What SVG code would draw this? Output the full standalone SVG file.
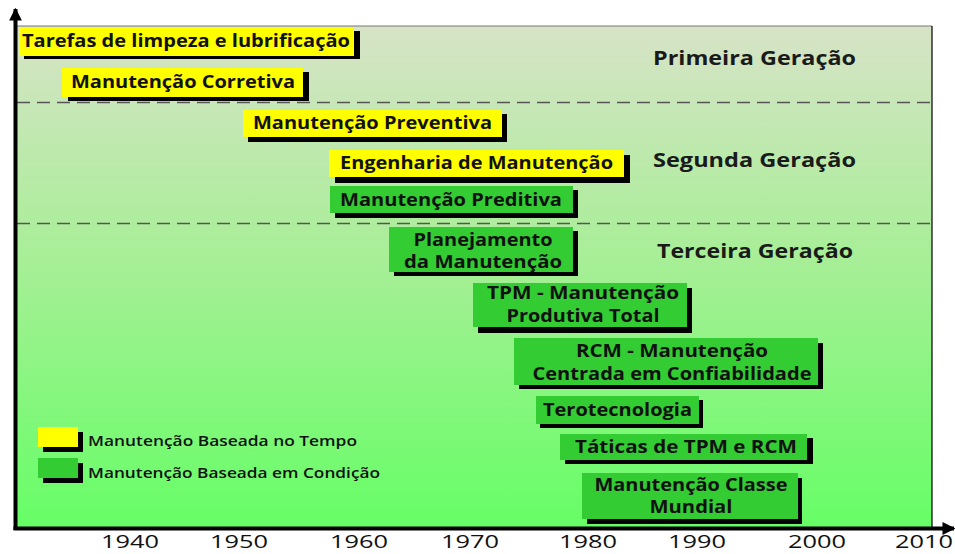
<svg xmlns="http://www.w3.org/2000/svg" width="955" height="554" viewBox="0 0 955 554">
<defs>
<linearGradient id="bg" x1="0" y1="0" x2="0" y2="1">
<stop offset="0" stop-color="#d7e3c7"/>
<stop offset="0.45" stop-color="#a9ee98"/>
<stop offset="1" stop-color="#66fe66"/>
</linearGradient>
<marker id="arr" viewBox="0 0 10 10" refX="9" refY="5" markerWidth="3.2" markerHeight="3.2" orient="auto" markerUnits="strokeWidth">
<path d="M0,0 L10,5 L0,10 Z" fill="#000"/>
</marker>
<style>
.sh{fill:#000}
.y{fill:#ffff00}
.g{fill:#33cc33}
.t{font-family:"Open Sans","Liberation Sans",sans-serif;font-weight:700;font-size:17px;fill:#111}
.c{text-anchor:middle}
.lg{font-family:"Open Sans","Liberation Sans",sans-serif;font-weight:600;font-size:14.5px;fill:#111}
.gen{font-family:"Open Sans","Liberation Sans",sans-serif;font-weight:700;font-size:19.5px;fill:#1a1a1a}
.yr{font-family:"Open Sans","Liberation Sans",sans-serif;font-size:19px;fill:#111;text-anchor:middle}
.dash{stroke:#555;stroke-width:1.3;stroke-dasharray:13 7;fill:none}
</style>
</defs>
<g id="background">
<rect x="15" y="26" width="917" height="502" fill="url(#bg)"/>
<line x1="15" y1="26" x2="932" y2="26" stroke="#777" stroke-width="1"/>
<line x1="932" y1="26" x2="932" y2="528" stroke="#000" stroke-width="1.2"/>
<line class="dash" x1="17" y1="102.5" x2="932" y2="102.5"/>
<line class="dash" x1="17" y1="223.5" x2="932" y2="223.5"/>
</g>
<g id="axes">
<line x1="15.5" y1="530" x2="15.5" y2="9" stroke="#000" stroke-width="4" marker-end="url(#arr)"/>
<line x1="13.5" y1="528.5" x2="954" y2="528.5" stroke="#000" stroke-width="4" marker-end="url(#arr)"/>
</g>
<g id="years">
<text class="yr" x="130" y="548" textLength="58" lengthAdjust="spacingAndGlyphs">1940</text>
<text class="yr" x="239" y="548" textLength="58" lengthAdjust="spacingAndGlyphs">1950</text>
<text class="yr" x="359" y="548" textLength="58" lengthAdjust="spacingAndGlyphs">1960</text>
<text class="yr" x="470" y="548" textLength="58" lengthAdjust="spacingAndGlyphs">1970</text>
<text class="yr" x="588" y="548" textLength="58" lengthAdjust="spacingAndGlyphs">1980</text>
<text class="yr" x="697" y="548" textLength="58" lengthAdjust="spacingAndGlyphs">1990</text>
<text class="yr" x="817" y="548" textLength="58" lengthAdjust="spacingAndGlyphs">2000</text>
<text class="yr" x="924" y="548" textLength="58" lengthAdjust="spacingAndGlyphs">2010</text>
</g>
<g id="generations">
<text class="gen" x="653" y="65" textLength="203" lengthAdjust="spacingAndGlyphs">Primeira Geração</text>
<text class="gen" x="653" y="167" textLength="203" lengthAdjust="spacingAndGlyphs">Segunda Geração</text>
<text class="gen" x="657" y="258" textLength="196" lengthAdjust="spacingAndGlyphs">Terceira Geração</text>
</g>
<g id="connectors"></g>
<g id="n1">
<rect class="sh" x="24" y="31" width="336" height="28"/>
<rect class="y" x="19" y="27" width="335" height="29"/>
<text class="t" x="22" y="47" textLength="328" lengthAdjust="spacingAndGlyphs">Tarefas de limpeza e lubrificação</text>
</g>
<g id="n2">
<rect class="sh" x="68" y="72" width="241" height="29"/>
<rect class="y" x="62" y="68" width="241" height="29"/>
<text class="t" x="71" y="88" textLength="224" lengthAdjust="spacingAndGlyphs">Manutenção Corretiva</text>
</g>
<g id="n3">
<rect class="sh" x="248" y="114" width="259" height="28"/>
<rect class="y" x="243" y="110" width="259" height="27"/>
<text class="t" x="253" y="129" textLength="239" lengthAdjust="spacingAndGlyphs">Manutenção Preventiva</text>
</g>
<g id="n4">
<rect class="sh" x="335" y="155" width="295" height="28"/>
<rect class="y" x="329" y="150" width="295" height="27"/>
<text class="t" x="340" y="169" textLength="273" lengthAdjust="spacingAndGlyphs">Engenharia de Manutenção</text>
</g>
<g id="n5">
<rect class="sh" x="335" y="190" width="243" height="28"/>
<rect class="g" x="330" y="186" width="243" height="27"/>
<text class="t" x="340" y="206" textLength="222" lengthAdjust="spacingAndGlyphs">Manutenção Preditiva</text>
</g>
<g id="n6">
<rect class="sh" x="394" y="231" width="184" height="45"/>
<rect class="g" x="389" y="227" width="184" height="45"/>
<text class="t c" x="483" y="246" textLength="139" lengthAdjust="spacingAndGlyphs">Planejamento</text>
<text class="t c" x="483" y="268" textLength="158" lengthAdjust="spacingAndGlyphs">da Manutenção</text>
</g>
<g id="n7">
<rect class="sh" x="478" y="288" width="214" height="45"/>
<rect class="g" x="473" y="283" width="214" height="44"/>
<text class="t c" x="583" y="299" textLength="192" lengthAdjust="spacingAndGlyphs">TPM - Manutenção</text>
<text class="t c" x="583" y="322" textLength="153" lengthAdjust="spacingAndGlyphs">Produtiva Total</text>
</g>
<g id="n8">
<rect class="sh" x="519" y="343" width="304" height="46"/>
<rect class="g" x="514" y="338" width="304" height="47"/>
<text class="t c" x="672" y="357" textLength="192" lengthAdjust="spacingAndGlyphs">RCM - Manutenção</text>
<text class="t c" x="672" y="380" textLength="279" lengthAdjust="spacingAndGlyphs">Centrada em Confiabilidade</text>
</g>
<g id="n9">
<rect class="sh" x="540" y="400" width="163" height="28"/>
<rect class="g" x="536" y="396" width="163" height="28"/>
<text class="t" x="543" y="416" textLength="149" lengthAdjust="spacingAndGlyphs">Terotecnologia</text>
</g>
<g id="n10">
<rect class="sh" x="565" y="438" width="248" height="26"/>
<rect class="g" x="560" y="434" width="247" height="26"/>
<text class="t" x="575" y="453" textLength="222" lengthAdjust="spacingAndGlyphs">Táticas de TPM e RCM</text>
</g>
<g id="n11">
<rect class="sh" x="587" y="478" width="215" height="46"/>
<rect class="g" x="582" y="473" width="216" height="46"/>
<text class="t c" x="691" y="491" textLength="193" lengthAdjust="spacingAndGlyphs">Manutenção Classe</text>
<text class="t c" x="691" y="513" textLength="83" lengthAdjust="spacingAndGlyphs">Mundial</text>
</g>
<g id="legend">
<g id="legend-time">
<rect class="sh" x="43" y="432" width="40" height="20"/>
<rect class="y" x="38" y="427" width="40" height="20"/>
<text class="lg" x="88" y="446" textLength="269" lengthAdjust="spacingAndGlyphs">Manutenção Baseada no Tempo</text>
</g>
<g id="legend-condition">
<rect class="sh" x="43" y="463" width="40" height="20"/>
<rect class="g" x="38" y="458" width="40" height="20"/>
<text class="lg" x="88" y="478" textLength="292" lengthAdjust="spacingAndGlyphs">Manutenção Baseada em Condição</text>
</g>
</g>
</svg>
